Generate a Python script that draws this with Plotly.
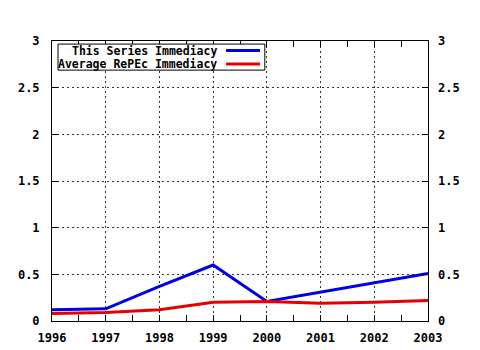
import plotly.graph_objects as go

years = [1996, 1997, 1998, 1999, 2000, 2001, 2002, 2003]
series_immediacy = [0.12, 0.13, 0.37, 0.60, 0.21, 0.31, 0.41, 0.51]
repec_immediacy = [0.08, 0.09, 0.12, 0.20, 0.21, 0.19, 0.20, 0.22]
y_ticks = [0, 0.5, 1, 1.5, 2, 2.5, 3]
y_labels = ["0", "0.5", "1", "1.5", "2", "2.5", "3"]
legend_names = ["This Series Immediacy", "Average RePEc Immediacy"]

BLUE = "#0000e6"
RED = "#e60000"
TF = dict(family="DejaVu Sans Mono", size=12, color="black", weight="bold")

fig = go.Figure()
fig.add_trace(go.Scatter(x=years, y=series_immediacy, mode="lines",
                         line=dict(color=BLUE, width=3), name=legend_names[0], showlegend=False))
fig.add_trace(go.Scatter(x=years, y=repec_immediacy, mode="lines",
                         line=dict(color=RED, width=3), name=legend_names[1], showlegend=False))
fig.add_trace(go.Scatter(x=years, y=repec_immediacy, mode="lines", yaxis="y2",
                         line=dict(color="rgba(0,0,0,0)", width=0), hoverinfo="skip", showlegend=False))

fig.update_layout(
    width=480, height=350,
    margin=dict(l=52, r=52, t=41, b=29, autoexpand=False),
    paper_bgcolor="white", plot_bgcolor="white",
    font=TF,
    xaxis=dict(range=[1996, 2003], tickvals=years, ticktext=[str(y) for y in years],
               showgrid=True, gridcolor="#333333", griddash="2px,3px", gridwidth=1,
               ticks="inside", ticklen=6, tickcolor="black", mirror="allticks",
               showline=True, linecolor="black", linewidth=1, zeroline=False,
               ticklabelstandoff=6, automargin=False,
               minor=dict(dtick=0.5, tick0=1996, ticks="inside", ticklen=3, tickcolor="black", showgrid=False),
               tickfont=TF),
    yaxis=dict(range=[0, 3], tickvals=y_ticks, ticktext=y_labels,
               showgrid=True, gridcolor="#333333", griddash="2px,3px", gridwidth=1,
               ticks="inside", ticklen=6, tickcolor="black", mirror="allticks",
               showline=True, linecolor="black", linewidth=1, zeroline=False,
               ticklabelstandoff=9, automargin=False, tickfont=TF),
    yaxis2=dict(range=[0, 3], tickvals=y_ticks, ticktext=y_labels, overlaying="y", side="right",
                showgrid=False, ticks="", showline=False, zeroline=False, ticklabelstandoff=9,
                automargin=False, tickfont=TF),
)

# legend box drawn like the original (text then line sample)
fig.add_shape(type="rect", xref="paper", yref="paper", x0=0.016, x1=0.566, y0=0.896, y1=0.989,
              line=dict(color="black", width=1), fillcolor="white", layer="above")
rows = [(0.966, BLUE), (0.918, RED)]
for name, (yy, col) in zip(legend_names, rows):
    fig.add_annotation(x=0.443, y=yy, xref="paper", yref="paper", text="<b>" + name + "</b>",
                       showarrow=False, xanchor="right", yanchor="middle",
                       font=dict(family="DejaVu Sans Mono", size=11.5, color="black"))
    fig.add_shape(type="line", xref="paper", yref="paper", x0=0.463, x1=0.553, y0=yy, y1=yy,
                  line=dict(color=col, width=3), layer="above")

fig.write_html("out.html")
